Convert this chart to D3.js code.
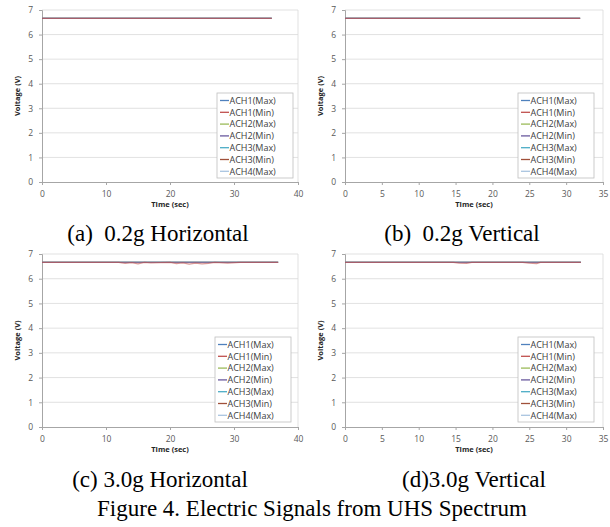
<!DOCTYPE html>
<html>
<head>
<meta charset="utf-8">
<script src="https://cdn.jsdelivr.net/npm/d3@7"></script>
<style>
  body { margin: 0; background: #fff; }
  svg { display: block; }
  .tick text { font-family: "Open Sans", "Liberation Sans", sans-serif; font-size: 8.5px; fill: #595959; }
</style>
</head>
<body>
<div id="fig"></div>
<script>
// series names and colours (legend order)
let seriesNames = ["ACH1(Max)", "ACH1(Min)", "ACH2(Max)", "ACH2(Min)", "ACH3(Max)", "ACH3(Min)", "ACH4(Max)"];
let seriesColors = ["#4f81bd", "#c0504d", "#9bbb59", "#6a5a9e", "#4bacc6", "#a0503a", "#a9c4e0"];
let yTicks = [0, 1, 2, 3, 4, 5, 6, 7];

// flat signal level of each channel (V)
let levelA = [6.67, 6.66, 6.67, 6.66, 6.67, 6.66, 6.67];
let levelB = [6.67, 6.66, 6.67, 6.66, 6.67, 6.66, 6.67];
let levelC = [6.67, 6.66, 6.67, 6.66, 6.67, 6.66, 6.67];
let levelD = [6.67, 6.66, 6.67, 6.66, 6.67, 6.66, 6.67];

// sample times (sec) and ACH1(Min) readings where the signal dips
let timeA = [0, 35.9];
let minA = [6.66, 6.66];
let timeB = [0, 31.9];
let minB = [6.66, 6.66];
let timeC = [0, 12, 13, 14, 15, 16, 17, 20, 21, 22, 23, 24, 25, 26, 27, 29, 31, 36.9];
let minC = [6.66, 6.66, 6.62, 6.65, 6.6, 6.66, 6.64, 6.66, 6.61, 6.64, 6.59, 6.63, 6.6, 6.62, 6.66, 6.63, 6.66, 6.66];
let timeD = [0, 14.7, 15.5, 16.5, 17.2, 24.1, 25, 26, 26.5, 32.0];
let minD = [6.66, 6.66, 6.63, 6.62, 6.66, 6.66, 6.63, 6.61, 6.66, 6.66];

let xTicksH = [0, 10, 20, 30, 40];
let xTicksV = [0, 5, 10, 15, 20, 25, 30, 35];

let panels = [
  {left: 42, right: 298, top: 10, bottom: 182, xmax: 40, ticks: xTicksH, time: timeA, min: minA, level: levelA,
   legend: {x: 217, y: 93}, caption: "(a)  0.2g Horizontal", capX: 158, capY: 241},
  {left: 345, right: 603, top: 10, bottom: 182, xmax: 35, ticks: xTicksV, time: timeB, min: minB, level: levelB,
   legend: {x: 518, y: 93}, caption: "(b)  0.2g Vertical", capX: 462, capY: 241},
  {left: 42, right: 298, top: 254, bottom: 427, xmax: 40, ticks: xTicksH, time: timeC, min: minC, level: levelC,
   legend: {x: 215, y: 337}, caption: "(c) 3.0g Horizontal", capX: 160, capY: 487},
  {left: 345, right: 603, top: 254, bottom: 427, xmax: 35, ticks: xTicksV, time: timeD, min: minD, level: levelD,
   legend: {x: 518, y: 337}, caption: "(d)3.0g Vertical", capX: 474, capY: 487}
];

// draw order: the Min channels sit on top, which gives the mauve look
let drawOrder = [0, 2, 4, 6, 5, 3, 1];

let svg = d3.select("#fig").append("svg")
  .attr("width", 610)
  .attr("height", 527);

panels.forEach(p => {
  let x = d3.scaleLinear().domain([0, p.xmax]).range([p.left, p.right]);
  let y = d3.scaleLinear().domain([0, 7]).range([p.bottom, p.top]);
  let g = svg.append("g");

  // gridlines
  g.selectAll(".grid").data(yTicks.slice(1)).enter().append("line")
    .attr("x1", p.left).attr("x2", p.right)
    .attr("y1", d => y(d)).attr("y2", d => y(d))
    .attr("stroke", "#d9d9d9").attr("stroke-width", 0.8);
  g.append("line")
    .attr("x1", p.right).attr("x2", p.right).attr("y1", p.top).attr("y2", p.bottom)
    .attr("stroke", "#d9d9d9").attr("stroke-width", 0.8);

  // axes
  let yAxis = g.append("g")
    .attr("transform", "translate(" + p.left + ",0)")
    .call(d3.axisLeft(y).tickValues(yTicks).tickFormat(d3.format("d")).tickSize(3).tickPadding(6));
  let xAxis = g.append("g")
    .attr("transform", "translate(0," + p.bottom + ")")
    .call(d3.axisBottom(x).tickValues(p.ticks).tickSize(3).tickPadding(6));
  [xAxis, yAxis].forEach(a => {
    a.select(".domain").attr("stroke", "#a6a6a6");
    a.selectAll(".tick line").attr("stroke", "#a6a6a6");
  });

  g.append("text")
    .attr("x", (p.left + p.right) / 2).attr("y", p.bottom + 25)
    .attr("text-anchor", "middle")
    .style("font-family", "Open Sans, Liberation Sans, sans-serif")
    .style("font-size", "7.5px").style("font-weight", "700").style("fill", "#262626")
    .text("Time (sec)");
  g.append("text")
    .attr("transform", "translate(" + (p.left - 22) + "," + ((p.top + p.bottom) / 2) + ") rotate(-90)")
    .attr("text-anchor", "middle")
    .style("font-family", "Open Sans, Liberation Sans, sans-serif")
    .style("font-size", "7.5px").style("font-weight", "700").style("fill", "#262626")
    .text("Voltage (V)");

  // signal lines
  let line = d3.line().x(d => x(d[0])).y(d => y(d[1]));
  let tEnd = p.time[p.time.length - 1];
  drawOrder.forEach(i => {
    let pts = (i === 1) ? p.time.map((t, j) => [t, p.min[j]]) : [[0, p.level[i]], [tEnd, p.level[i]]];
    g.append("path")
      .attr("d", line(pts))
      .attr("fill", "none")
      .attr("stroke", seriesColors[i])
      .attr("stroke-width", 1.4)
      .attr("stroke-opacity", (i === 1 || i === 3) ? 0.6 : 0.4);
  });

  // legend
  let lg = g.append("g").attr("transform", "translate(" + p.legend.x + "," + p.legend.y + ")");
  lg.append("rect").attr("width", 76).attr("height", 85)
    .attr("fill", "#fff").attr("stroke", "#bfbfbf").attr("stroke-width", 0.8);
  seriesNames.forEach((name, i) => {
    let ly = 7.5 + i * 11.8;
    lg.append("line").attr("x1", 3).attr("x2", 12).attr("y1", ly).attr("y2", ly)
      .attr("stroke", seriesColors[i]).attr("stroke-width", 1.3);
    lg.append("text").attr("x", 12.5).attr("y", ly + 3.3)
      .style("font-family", "Open Sans, Liberation Sans, sans-serif")
      .style("font-size", "9px").style("fill", "#404040")
      .text(name);
  });

  svg.append("text")
    .attr("x", p.capX).attr("y", p.capY)
    .attr("text-anchor", "middle")
    .attr("xml:space", "preserve")
    .style("white-space", "pre")
    .style("font-family", "Liberation Serif, serif")
    .style("font-size", "23px").style("fill", "#000")
    .text(p.caption);
});

svg.append("text")
  .attr("x", 312).attr("y", 516)
  .attr("text-anchor", "middle")
  .style("font-family", "Liberation Serif, serif")
  .style("font-size", "23px").style("fill", "#000")
  .text("Figure 4. Electric Signals from UHS Spectrum");
</script>
</body>
</html>
